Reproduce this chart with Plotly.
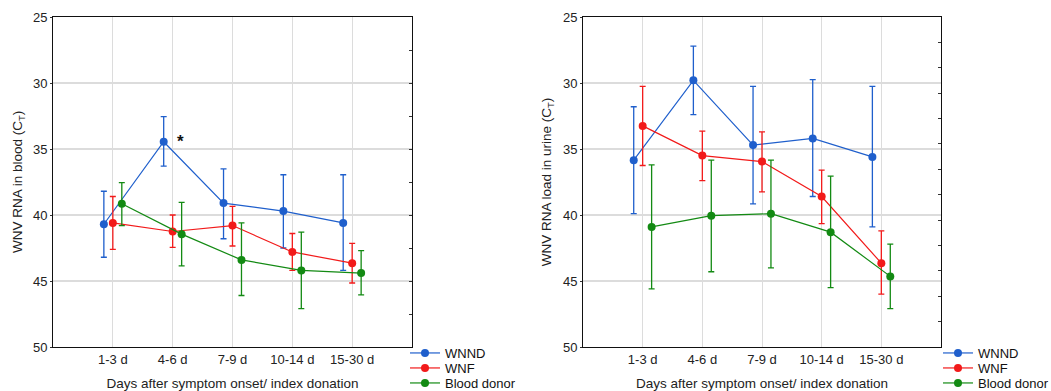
import plotly.graph_objects as go

categories = ["1-3 d", "4-6 d", "7-9 d", "10-14 d", "15-30 d"]
series_names = ["WNND", "WNF", "Blood donor"]
colors = ["#1f5fcc", "#f21a1a", "#138a13"]

# Blood panel (Ct values): mean, upper (lower Ct) and lower (higher Ct) bar ends
blood_mean = {
    "WNND": [40.7, 34.45, 39.1, 39.7, 40.6],
    "WNF": [40.6, 41.25, 40.8, 42.8, 43.65],
    "Blood donor": [39.15, 41.45, 43.4, 44.2, 44.4],
}
blood_top = {
    "WNND": [38.2, 32.55, 36.5, 36.95, 36.95],
    "WNF": [38.6, 40.0, 39.35, 41.4, 42.15],
    "Blood donor": [37.55, 39.05, 40.6, 41.3, 42.7],
}
blood_bottom = {
    "WNND": [43.2, 36.3, 41.8, 42.5, 44.2],
    "WNF": [42.6, 42.45, 42.35, 44.2, 45.15],
    "Blood donor": [40.8, 43.85, 46.1, 47.1, 46.05],
}

# Urine panel
urine_mean = {
    "WNND": [35.85, 29.8, 34.7, 34.2, 35.6],
    "WNF": [33.25, 35.5, 35.95, 38.6, 43.65],
    "Blood donor": [40.9, 40.05, 39.9, 41.3, 44.65],
}
urine_top = {
    "WNND": [31.8, 27.2, 30.25, 29.75, 30.25],
    "WNF": [30.25, 33.65, 33.7, 36.6, 41.2],
    "Blood donor": [36.2, 35.85, 35.85, 37.05, 42.2],
}
urine_bottom = {
    "WNND": [39.9, 32.4, 39.15, 38.6, 40.9],
    "WNF": [36.25, 37.4, 38.25, 40.65, 46.0],
    "Blood donor": [45.6, 44.3, 44.0, 45.5, 47.1],
}

offsets = [-0.15, 0.0, 0.15]
cat_pos = [1, 2, 3, 4, 5]

W, H = 1051, 391
PT, PB = 17, 347   # plot top / bottom in px
PL, PR = 53, 941   # outer left / right of the two panels in px
PW = PR - PL

fig = go.Figure()

def add_panel(mean, top, bottom, xa, ya, legends):
    for name, col, off, lg in zip(series_names, colors, offsets, legends):
        m = mean[name]
        xs = [p + off for p in cat_pos]
        fig.add_trace(go.Scatter(
            x=xs, y=m, mode="lines+markers", name=name,
            xaxis=xa, yaxis=ya, legend=lg,
            line=dict(color=col, width=1.2),
            marker=dict(color=col, size=8),
            error_y=dict(type="data", symmetric=False,
                         array=[b - v for b, v in zip(bottom[name], m)],
                         arrayminus=[v - t for v, t in zip(m, top[name])],
                         color=col, thickness=1.3, width=3),
        ))

add_panel(blood_mean, blood_top, blood_bottom, "x", "y",
          ["legend", "legend2", "legend3"])
add_panel(urine_mean, urine_top, urine_bottom, "x2", "y2",
          ["legend4", "legend5", "legend6"])

font_fam = "Liberation Sans, Arial, sans-serif"
tick_font = dict(family=font_fam, size=13, color="#222")
title_font = dict(family=font_fam, size=13.5, color="#222")

common_x = dict(range=[0, 6], tickvals=cat_pos, ticktext=categories,
                showgrid=True, gridcolor="#dcdcdc", gridwidth=1,
                showline=True, linecolor="#111", linewidth=1, mirror=True,
                ticks="", zeroline=False, tickfont=tick_font,
                ticklabelstandoff=0,
                title=dict(text="Days after symptom onset/ index donation",
                           font=title_font, standoff=12))
common_y = dict(range=[50, 25], tickvals=[25, 30, 35, 40, 45, 50],
                showgrid=True, gridcolor="#dcdcdc", gridwidth=1.5,
                showline=True, linecolor="#111", linewidth=1, mirror=True,
                ticks="outside", ticklen=2, tickcolor="#333",
                zeroline=False, tickfont=tick_font)

def leg(xpx, ypx):
    return dict(xref="container", yref="container",
                x=xpx / W, y=1 - ypx / H, xanchor="left",
                yanchor="middle", font=dict(family=font_fam, size=13, color="#111"),
                itemwidth=30, bgcolor="rgba(0,0,0,0)", borderwidth=0)

fig.update_layout(
    width=W, height=H,
    margin=dict(l=PL, r=W - PR, t=PT, b=H - PB, autoexpand=False),
    paper_bgcolor="white", plot_bgcolor="white",
    font=dict(family=font_fam, size=13, color="#222"),
    xaxis=dict(domain=[0, (412 - PL) / PW], anchor="y", **common_x),
    yaxis=dict(domain=[0, 1], anchor="x", **common_y),
    xaxis2=dict(domain=[(583 - PL) / PW, 1], anchor="y2", **common_x),
    yaxis2=dict(domain=[0, 1], anchor="x2",
                title=dict(text="WNV RNA load in urine (C<sub>T</sub>)",
                           font=title_font, standoff=8),
                **common_y),
    yaxis3=dict(overlaying="y", anchor="x", side="right", range=[10, 0],
                dtick=1, ticks="inside", ticklen=3, tickcolor="#333",
                showticklabels=False, showgrid=False, zeroline=False,
                showline=False),
    yaxis4=dict(overlaying="y2", anchor="x2", side="right", range=[13, 0],
                dtick=1, ticks="inside", ticklen=3, tickcolor="#333",
                showticklabels=False, showgrid=False, zeroline=False,
                showline=False),
    legend=leg(405, 353),
    legend2=leg(405, 368),
    legend3=leg(405, 383),
    legend4=leg(938, 353),
    legend5=leg(938, 368),
    legend6=leg(938, 383),
    showlegend=True,
)

# invisible traces so the tick-only axes are drawn
fig.add_trace(go.Scatter(x=[None], y=[None], xaxis="x", yaxis="y3",
                         showlegend=False, hoverinfo="skip"))
fig.add_trace(go.Scatter(x=[None], y=[None], xaxis="x2", yaxis="y4",
                         showlegend=False, hoverinfo="skip"))

# left panel y-axis title
fig.add_annotation(x=(18 - PL) / PW, y=0.5, xref="paper", yref="paper",
                   text="WNV RNA in blood (C<sub>T</sub>)", textangle=-90,
                   showarrow=False, xanchor="center", yanchor="middle",
                   font=title_font)

fig.add_annotation(x=2.13, y=34.45, xref="x", yref="y", text="<b>*</b>",
                   showarrow=False, font=dict(family=font_fam, size=17, color="#111"))

fig.write_html("out.html", config={"displayModeBar": False},
               post_script="document.body.style.margin='0';document.body.style.overflow='hidden';")
